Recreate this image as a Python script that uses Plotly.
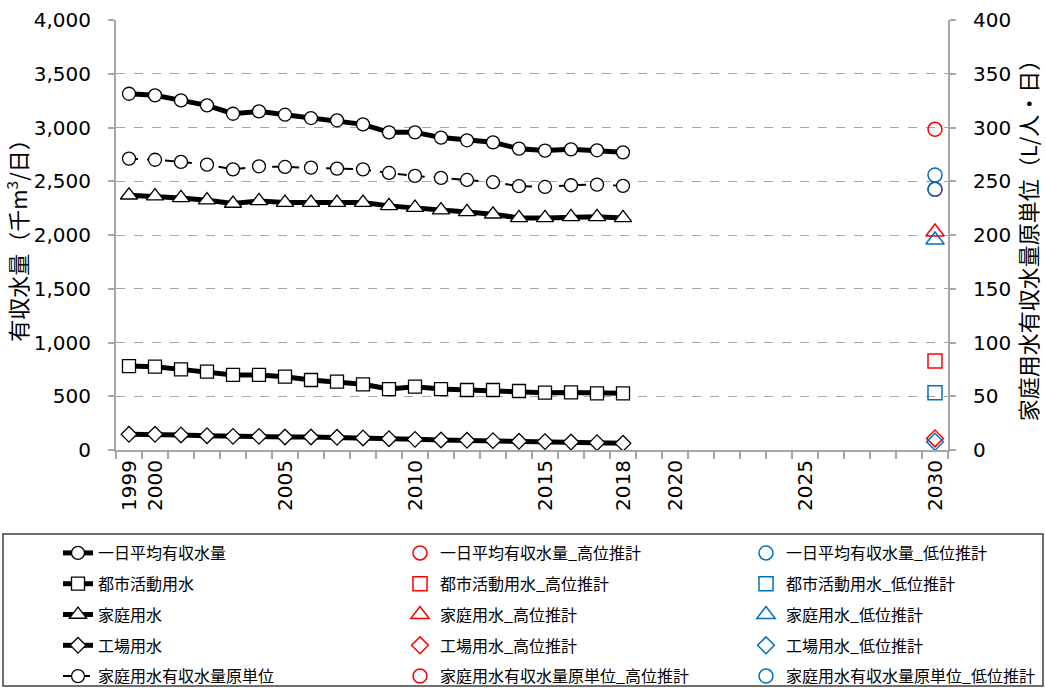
import plotly.graph_objects as go

years_num = list(range(1999, 2019))
proj_year = [2030]

total = [3314, 3299, 3252, 3206, 3128, 3150, 3119, 3088, 3067, 3029,
         2955, 2955, 2906, 2881, 2862, 2803, 2785, 2797, 2788, 2769]
urban = [781, 775, 750, 729, 698, 698, 682, 651, 636, 611,
         567, 589, 567, 558, 558, 549, 533, 536, 527, 527]
household = [2370, 2361, 2345, 2324, 2293, 2317, 2302, 2302, 2302, 2302,
             2271, 2255, 2231, 2215, 2193, 2159, 2159, 2169, 2169, 2159]
factory = [146, 146, 140, 133, 127, 127, 121, 121, 118, 112,
           105, 99, 93, 90, 87, 81, 78, 74, 68, 62]
unit = [271.1, 270.0, 268.0, 265.5, 261.1, 263.9, 263.3, 262.7, 261.8, 261.1,
        257.7, 255.0, 253.1, 251.2, 249.1, 245.4, 244.7, 246.3, 246.9, 245.7]

proj_high = {"total": 2983, "urban": 828, "household": 2028, "factory": 108, "unit": 242.5}
proj_low = {"total": 2558, "urban": 533, "household": 1953, "factory": 77, "unit": 242.5}

names = {
    "total": "一日平均有収水量",
    "urban": "都市活動用水",
    "household": "家庭用水",
    "factory": "工場用水",
    "unit": "家庭用水有収水量原単位",
}
hist = {"total": total, "urban": urban, "household": household, "factory": factory, "unit": unit}
symbols = {"total": "circle", "urban": "square", "household": "triangle-up", "factory": "diamond", "unit": "circle"}
sizes = {"total": 13, "urban": 13, "household": 15, "factory": 12, "unit": 13}
order = ["total", "urban", "household", "factory", "unit"]

tick_years = [1999, 2000, 2005, 2010, 2015, 2018, 2020, 2025, 2030]

RED = "#FF0000"
BLUE = "#0070C0"
GRAY = "#A6A6A6"
CJK = "Noto Sans CJK JP"
NUM = "DejaVu Sans"

fig = go.Figure()

# historical series (column 1 of legend)
for k in order:
    is_unit = k == "unit"
    fig.add_trace(go.Scatter(
        x=years_num, y=hist[k], name=names[k], mode="lines+markers",
        yaxis="y2" if is_unit else "y",
        line=dict(color="black", width=2 if is_unit else 5, dash="dash" if is_unit else "solid"),
        marker=dict(symbol=symbols[k], size=sizes[k], color="white",
                    line=dict(color="black", width=1.3)),
        legend="legend", legendgroup=k,
    ))

# high projection (column 2)
for k in order:
    is_unit = k == "unit"
    fig.add_trace(go.Scatter(
        x=proj_year, y=[proj_high[k]], name=names[k] + "_高位推計", mode="markers",
        yaxis="y2" if is_unit else "y",
        marker=dict(symbol=symbols[k] + "-open", size=sizes[k] + 1, color=RED,
                    line=dict(color=RED, width=1.5)),
        legend="legend2", legendgroup=k + "_h",
    ))

# low projection (column 3)
for k in order:
    is_unit = k == "unit"
    fig.add_trace(go.Scatter(
        x=proj_year, y=[proj_low[k]], name=names[k] + "_低位推計", mode="markers",
        yaxis="y2" if is_unit else "y",
        marker=dict(symbol=symbols[k] + "-open", size=sizes[k] + 1, color=BLUE,
                    line=dict(color=BLUE, width=1.5)),
        legend="legend3", legendgroup=k + "_l",
    ))

W, H = 1046, 688
L, R, T, B = 116, 98, 20, 238
pw, ph = W - L - R, H - T - B


def px_x(p):
    return (p - L) / pw


def px_y(p):
    return (H - B - p) / ph


legend_common = dict(
    orientation="v", yanchor="top", xanchor="left",
    font=dict(family=CJK, size=16, color="black"),
    bgcolor="rgba(0,0,0,0)", borderwidth=0, tracegroupgap=7,
    itemclick=False, itemdoubleclick=False,
)

fig.update_layout(
    width=W, height=H,
    margin=dict(l=L, r=R, t=T, b=B, autoexpand=False),
    paper_bgcolor="white", plot_bgcolor="white",
    font=dict(family=NUM, color="black"),
    xaxis=dict(
        range=[1998.5, 2030.5], tickmode="array", tickvals=tick_years,
        ticktext=[str(y) for y in tick_years], tickangle=-90,
        tickfont=dict(family=NUM, size=20), ticks="", showgrid=False,
        showline=True, linecolor=GRAY, linewidth=2, zeroline=False,
        minor=dict(tick0=1998.5, dtick=1, ticks="outside", ticklen=7,
                   tickcolor=GRAY, tickwidth=1.5, showgrid=False),
        automargin=False,
    ),
    yaxis=dict(
        range=[0, 4000], dtick=500, tickformat=",d",
        tickfont=dict(family=NUM, size=20),
        ticks="outside", ticklen=6, tickcolor=GRAY, tickwidth=1.5,
        ticklabelstandoff=13,
        showline=True, linecolor=GRAY, linewidth=2, zeroline=False,
        showgrid=False,
        minor=dict(tickvals=[500, 1000, 1500, 2000, 2500, 3000, 3500], ticks="",
                   showgrid=True, gridcolor=GRAY, griddash="dash", gridwidth=1),
        title=dict(text="有収水量（千m<sup>3</sup>/日）", standoff=0,
                   font=dict(family=CJK, size=22)),
        automargin=False,
    ),
    yaxis2=dict(
        range=[0, 400], dtick=50, overlaying="y", side="right",
        tickfont=dict(family=NUM, size=20),
        ticks="outside", ticklen=6, tickcolor=GRAY, tickwidth=1.5,
        ticklabelstandoff=13,
        showline=True, linecolor=GRAY, linewidth=2, zeroline=False,
        showgrid=False,
        title=dict(text="家庭用水有収水量原単位（L/人・日）", standoff=8,
                   font=dict(family=CJK, size=22)),
        automargin=False,
    ),
    legend=dict(x=px_x(58), y=px_y(536), **legend_common),
    legend2=dict(x=px_x(400), y=px_y(536), **legend_common),
    legend3=dict(x=px_x(746), y=px_y(536), **legend_common),
    shapes=[dict(type="rect", xref="paper", yref="paper",
                 x0=px_x(3), x1=px_x(1043), y0=px_y(686), y1=px_y(534),
                 line=dict(color="#404040", width=1.5), fillcolor="rgba(0,0,0,0)")],
    showlegend=True,
)

fig.write_html(
    "out.html",
    config={"displayModeBar": False},
    post_script="document.body.style.margin='0';document.body.style.padding='0';"
                "document.body.style.overflow='hidden';",
)
